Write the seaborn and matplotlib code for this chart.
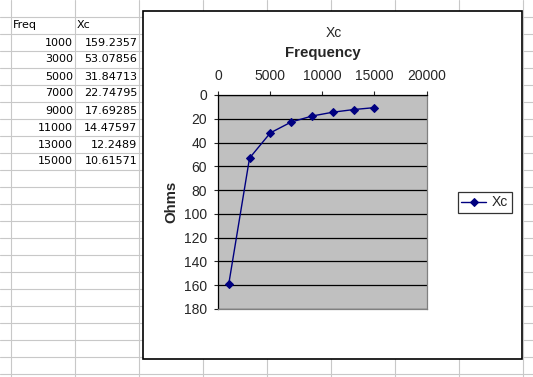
import numpy as np
import matplotlib
matplotlib.use("Agg")
import matplotlib.pyplot as plt
import seaborn as sns
from matplotlib.patches import Rectangle
from matplotlib.lines import Line2D

# data, as typed into the sheet
freq = [1000, 3000, 5000, 7000, 9000, 11000, 13000, 15000]
xc = [159.2357, 53.07856, 31.84713, 22.74795, 17.69285, 14.47597, 12.2489, 10.61571]
x_ticks = [0, 5000, 10000, 15000, 20000]
y_ticks = [0, 20, 40, 60, 80, 100, 120, 140, 160, 180]

W, H = 533, 377

sns.set_style("white")
plt.rcParams['font.family'] = ['Liberation Sans', 'DejaVu Sans']

fig = plt.figure(figsize=(W / 100, H / 100), dpi=100)

def fx(px):
    return px / W

def fy(py):
    return 1 - py / H

# spreadsheet grid behind everything
grid_col = "#c8c8c8"
for gx in [11, 75, 139, 203, 267, 331, 395, 459, 523]:
    fig.add_artist(Line2D([fx(gx), fx(gx)], [0, 1], color=grid_col, lw=0.8, zorder=0))
for k in range(0, 22):
    gy = 17 + 17 * k
    fig.add_artist(Line2D([0, 1], [fy(gy), fy(gy)], color=grid_col, lw=0.8, zorder=0))

# the cells
cell_font = dict(fontsize=8, color="black", family="DejaVu Sans")
fig.text(fx(13), fy(25.5), "Freq", ha="left", va="center", **cell_font)
fig.text(fx(77), fy(25.5), "Xc", ha="left", va="center", **cell_font)
for i, (f, v) in enumerate(zip(freq, xc)):
    yy = fy(42.5 + 17 * i)
    fig.text(fx(73), yy, str(f), ha="right", va="center", **cell_font)
    fig.text(fx(137.5), yy, "{:.7g}".format(v), ha="right", va="center", **cell_font)

# chart area box
fig.add_artist(Rectangle((fx(142.5), fy(359)), fx(522) - fx(142.5), fy(11) - fy(359),
                         transform=fig.transFigure, facecolor="white",
                         edgecolor="black", lw=1.2, zorder=1))

ax = fig.add_axes([fx(218.3), fy(309), fx(426.5) - fx(218.3), fy(95) - fy(309)], zorder=2)
ax.set_facecolor("#c0c0c0")

sns.lineplot(x=freq, y=xc, ax=ax, color="#000080", marker="D", markersize=4,
             markeredgecolor="#000080", lw=1, label="Xc", legend=False)

ax.set_xlim(0, 20000)
ax.set_ylim(180, 0)
ax.set_xticks(x_ticks)
ax.set_yticks(y_ticks)
ax.xaxis.tick_top()
ax.xaxis.set_label_position("top")
ax.yaxis.grid(True, color="black", lw=0.9)
ax.xaxis.grid(False)
ax.tick_params(axis="x", direction="out", length=3, width=0.8, pad=6, labelsize=10, top=True, bottom=False)
ax.tick_params(axis="y", direction="out", length=3, width=0.8, pad=5, labelsize=10, left=True)

for s in ["top", "left"]:
    ax.spines[s].set_color("black")
    ax.spines[s].set_linewidth(0.9)
for s in ["right", "bottom"]:
    ax.spines[s].set_color("#808080")
    ax.spines[s].set_linewidth(0.9)

ax.set_xlabel("Frequency", fontsize=10.8, fontweight="bold", labelpad=8)
ax.set_ylabel("Ohms", fontsize=10.8, fontweight="bold", labelpad=4)
fig.text(fx(334), fy(33), "Xc", ha="center", va="center", fontsize=10)

handles, labels = ax.get_legend_handles_labels()
leg = ax.legend(handles, labels, loc="upper left", bbox_to_anchor=(fx(458), fy(192)),
                bbox_transform=fig.transFigure, frameon=True, fancybox=False,
                fontsize=10, handlelength=1.8, borderpad=0.25, handletextpad=0.4,
                borderaxespad=0)
leg.get_frame().set_edgecolor("black")
leg.get_frame().set_linewidth(0.9)

fig.savefig("out.png", dpi=100)
